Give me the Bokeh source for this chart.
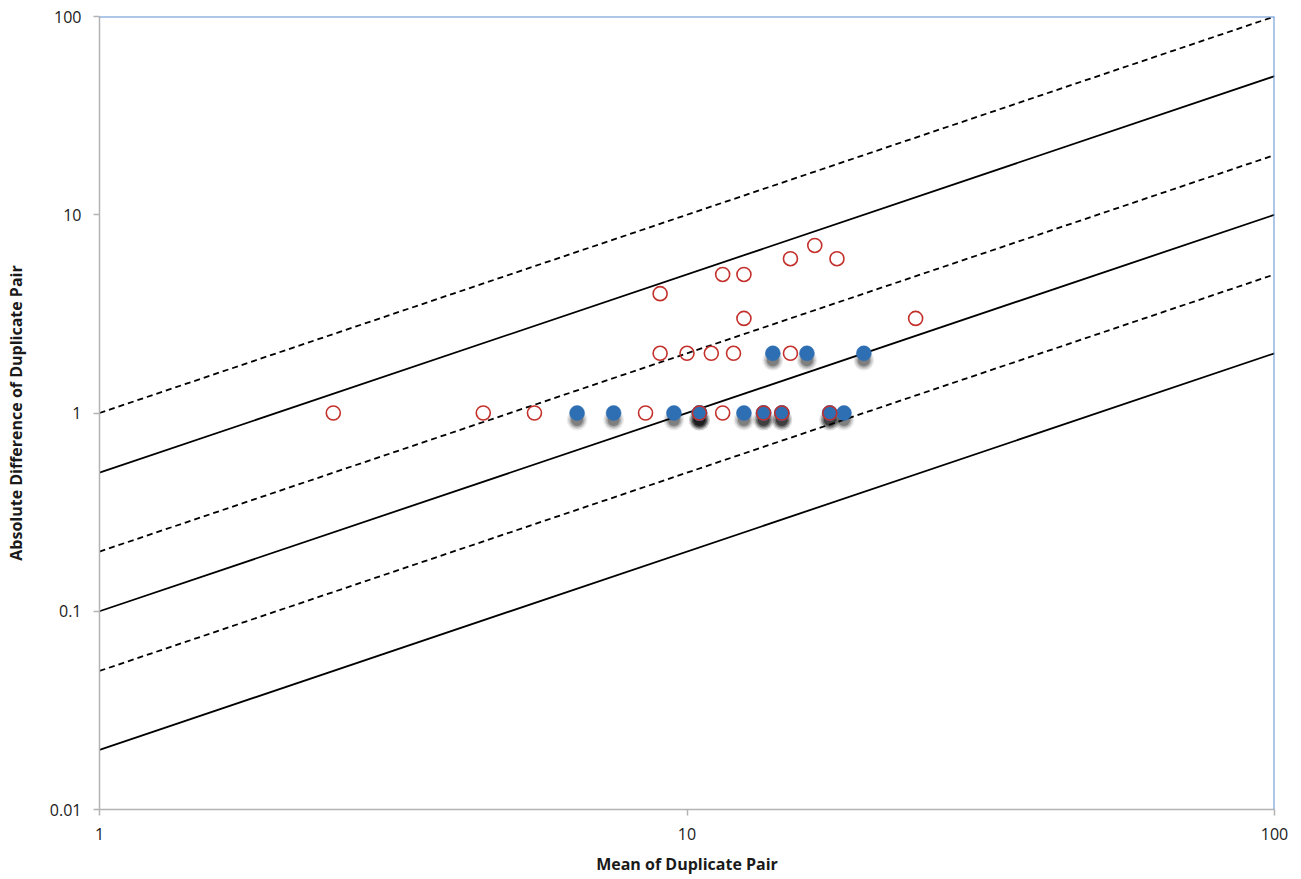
from bokeh.plotting import figure
from bokeh.models import FixedTicker, ColumnDataSource, Span
from bokeh.embed import file_html
from bokeh.resources import INLINE

# ---- data ----
red_x = [2.5, 4.5, 5.5, 8.5, 10.5, 11.5, 13.5, 14.5, 17.5,
         9, 10, 11, 12, 15,
         12.5, 24.5,
         9,
         11.5, 12.5,
         15, 18,
         16.5]
red_y = [1, 1, 1, 1, 1, 1, 1, 1, 1,
         2, 2, 2, 2, 2,
         3, 3,
         4,
         5, 5,
         6, 6,
         7]

blue_x = [6.5, 7.5, 9.5, 10.5, 10.5, 10.5, 12.5, 13.5, 13.5, 14.5, 14.5, 17.5, 17.5, 18.5,
          14, 16, 20]
blue_y = [1, 1, 1, 1, 1, 1, 1, 1, 1, 1, 1, 1, 1, 1,
          2, 2, 2]

line_coeffs = [1, 0.5, 0.2, 0.1, 0.05, 0.02]
line_styles = ["dashed", "solid", "dashed", "solid", "dashed", "solid"]

x_ticks = [1, 10, 100]
x_tick_labels = ["1", "10", "100"]
y_ticks = [0.01, 0.1, 1, 10, 100]
y_tick_labels = ["0.01", "0.1", "1", "10", "100"]

x_min, x_max = x_ticks[0], x_ticks[-1]
y_min, y_max = y_ticks[0], y_ticks[-1]
line_x = [x_min, x_max]

FONT = "Open Sans"
GREY = "#b3b3b3"
BORDER_BLUE = "#5b8fd2"

p = figure(width=1293, height=871, x_axis_type="log", y_axis_type="log",
           x_range=(x_min, x_max), y_range=(y_min, y_max),
           output_backend="svg", toolbar_location=None,
           min_border_left=99, min_border_right=19, min_border_top=16, min_border_bottom=62)
p.frame_width = 1175
p.frame_height = 793

p.xgrid.visible = False
p.ygrid.visible = False
p.outline_line_color = None
p.background_fill_color = "white"
p.border_fill_color = "white"

for ax, ticks, labels in ((p.xaxis[0], x_ticks, x_tick_labels), (p.yaxis[0], y_ticks, y_tick_labels)):
    ax.ticker = FixedTicker(ticks=ticks, minor_ticks=[])
    ax.major_label_overrides = {t: l for t, l in zip(ticks, labels)}
    ax.axis_line_color = GREY
    ax.axis_line_width = 1.5
    ax.major_tick_line_color = GREY
    ax.major_tick_line_width = 1.5
    ax.major_tick_out = 6
    ax.major_tick_in = 0
    ax.minor_tick_line_color = None
    ax.major_label_text_font = FONT
    ax.major_label_text_font_size = "16px"
    ax.major_label_text_color = "#1a1a1a"
    ax.axis_label_text_font = FONT
    ax.axis_label_text_font_size = "16px"
    ax.axis_label_text_font_style = "bold"
    ax.axis_label_text_color = "#1a1a1a"

p.xaxis.axis_label = "Mean of Duplicate Pair"
p.yaxis.axis_label = "Absolute Difference of Duplicate Pair"
p.xaxis.major_label_standoff = 12
p.xaxis.axis_label_standoff = 10
p.yaxis.major_label_standoff = 12
p.yaxis.axis_label_standoff = 20

# blue top and right border of the plot area
p.add_layout(Span(location=y_max, dimension="width", line_color=BORDER_BLUE, line_width=2))
p.add_layout(Span(location=x_max, dimension="height", line_color=BORDER_BLUE, line_width=2))

# reference lines y = k * x
for k, style in zip(line_coeffs, line_styles):
    p.line(x=line_x, y=[k * xx for xx in line_x], line_color="black", line_width=1.8,
           line_dash="6 4" if style == "dashed" else "solid")

# blue points with soft drop shadow
shadow_factor = 10 ** (-7 / 198.25)
shadow_src = ColumnDataSource(dict(x=blue_x, y=[v * shadow_factor for v in blue_y]))
for size, alpha in ((21, 0.07), (18, 0.12), (15, 0.18), (12, 0.25)):
    p.scatter("x", "y", source=shadow_src, size=size, fill_color="black", fill_alpha=alpha,
              line_color=None)

p.scatter(blue_x, blue_y, size=15, fill_color="#2e6fb3", line_color="#2e6fb3", line_width=0.5)
p.scatter(red_x, red_y, size=14, fill_color=None, line_color="#c3302b", line_width=1.6)

open("out.html", "w").write(file_html(p, INLINE))
